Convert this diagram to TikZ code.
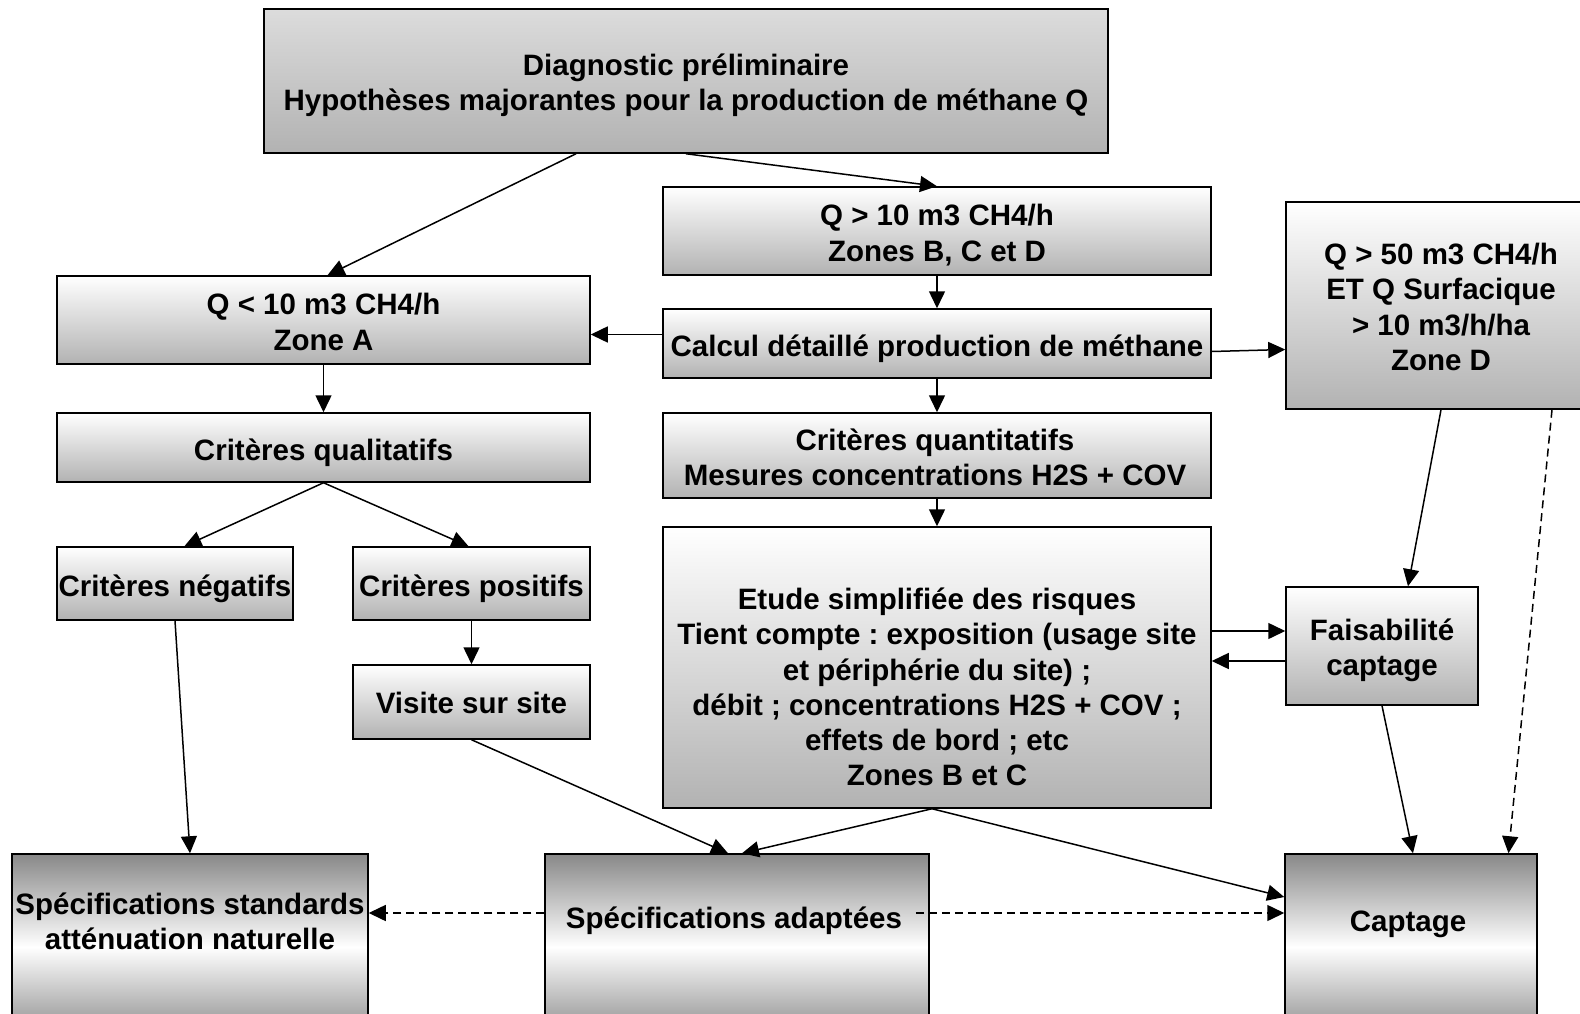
\documentclass[tikz,border=0pt]{standalone}
\usepackage{fontspec}
\setmainfont{Liberation Sans}
\usetikzlibrary{arrows.meta}
\frenchspacing
\definecolor{gbot}{HTML}{B2B2B2}
\definecolor{gdark}{HTML}{888888}
\definecolor{gtop}{HTML}{DCDCDC}
\tikzset{
  box/.style={draw=black, line width=1.5pt, inner sep=0pt,
    top color=white, bottom color=gbot},
  endbox/.style={draw=black, line width=1.5pt, inner sep=0pt,
    top color=gdark, bottom color=gdark, middle color=white},
  txt/.style={inner sep=0pt, align=center, font=\bfseries\fontsize{29.5}{35.2}\selectfont\frenchspacing},
  arr/.style={line width=1.5pt, -{Triangle[length=17pt,width=16pt]}},
  darr/.style={arr, dash pattern=on 8pt off 5pt},
}
\begin{document}
\begin{tikzpicture}[x=1pt,y=-1pt]
\clip (0,0) rectangle (1580,1014);
\fill[white] (0,0) rectangle (1580,1014);

\node[box, top color=gtop, minimum width=844pt, minimum height=144pt] (top) at (686,81) {};
\node[txt] (toptxt) at ([yshift=-4pt]top.center)
  {Diagnostic préliminaire\\Hypothèses majorantes pour la production de méthane Q};
\node[box, minimum width=548pt, minimum height=88pt] (q10) at (937,231) {};
\node[txt] (q10txt) at ([yshift=-4pt]q10.center) {Q > 10 m3 CH4/h\\Zones B, C et D};
\node[box, minimum width=533pt, minimum height=88pt] (qA) at (323.5,320) {};
\node[txt] (qAtxt) at ([yshift=-2pt]qA.center) {Q < 10 m3 CH4/h\\Zone A};
\node[box, minimum width=548pt, minimum height=69pt] (calc) at (937,343.5) {};
\node[txt] (calctxt) at ([yshift=-5pt]calc.center) {Calcul détaillé production de méthane};
\node[box, minimum width=310pt, minimum height=207pt] (q50) at (1441,305.5) {};
\node[txt] (q50txt) at ([yshift=-1.5pt]q50.center)
  {Q > 50 m3 CH4/h\\ET Q Surfacique\\ > 10 m3/h/ha\\Zone D};
\node[box, minimum width=533pt, minimum height=69pt] (qual) at (323.5,447.5) {};
\node[txt] (qualtxt) at ([yshift=-5pt]qual.center) {Critères qualitatifs};
\node[box, minimum width=548pt, minimum height=85pt] (quant) at (937,455.5) {};
\node[txt] (quanttxt) at ([xshift=-2pt,yshift=-2pt]quant.center)
  {Critères quantitatifs\\Mesures concentrations H2S + COV};
\node[box, minimum width=236pt, minimum height=73pt] (neg) at (175,583.5) {};
\node[txt] (negtxt) at ([yshift=-5pt]neg.center) {Critères négatifs};
\node[box, minimum width=237pt, minimum height=73pt] (pos) at (471.5,583.5) {};
\node[txt] (postxt) at ([yshift=-5pt]pos.center) {Critères positifs};
\node[box, minimum width=237pt, minimum height=74pt] (visite) at (471.5,702) {};
\node[txt] (visitetxt) at ([yshift=-1pt]visite.center) {Visite sur site};
\node[box, minimum width=548pt, minimum height=281pt] (etude) at (937,667.5) {};
\node[txt] (etudetxt) at ([yshift=-19.5pt]etude.center)
  {Etude simplifiée des risques\\Tient compte : exposition (usage site\\et périphérie du site) ;\\débit ; concentrations H2S + COV ;\\effets de bord ; etc\\Zones B et C};
\node[box, minimum width=192pt, minimum height=118pt] (faisab) at (1382,646) {};
\node[txt] (faisabtxt) at ([yshift=-4pt]faisab.center) {Faisabilité\\captage};

\node[endbox, minimum width=356pt, minimum height=186pt] (specstd) at (190,947) {};
\node[txt] (specstdtxt) at ([yshift=26pt]specstd.center)
  {Spécifications standards\\atténuation naturelle};
\node[endbox, minimum width=384pt, minimum height=186pt] (specad) at (737,947) {};
\node[txt] (specadtxt) at ([xshift=-3pt,yshift=26pt]specad.center)
  {Spécifications adaptées};
\node[endbox, minimum width=252pt, minimum height=186pt] (capt) at (1411,947) {};
\node[txt] (capttxt) at ([xshift=-3pt,yshift=23pt]capt.center) {Captage};

% connectors
\draw[arr] ([xshift=-110pt]top.south) -- ([xshift=4pt]qA.north);
\draw[arr] (top.south) -- (q10.north);
\draw[arr] (q10.south) -- (calc.north);
\draw[arr] ([yshift=9pt]calc.west) -- ([yshift=-14.5pt]qA.east);
\draw[arr] ([yshift=-8pt]calc.east) -- ([yshift=-44pt]q50.west);
\draw[arr] (calc.south) -- (quant.north);
\draw[arr] (qA.south) -- (qual.north);
\draw[arr] (qual.south) -- ([xshift=9.4pt]neg.north);
\draw[arr] (qual.south) -- ([xshift=-3pt]pos.north);
\draw[arr] (quant.south) -- (etude.north);
\draw[arr] (pos.south) -- (visite.north);
\draw[arr] ([yshift=36.5pt]etude.east) -- ([yshift=15pt]faisab.west);
\draw[arr] ([yshift=-15pt]faisab.west) -- ([yshift=6.5pt]etude.east);
\draw[arr] (q50.south) -- ([xshift=26pt]faisab.north);
\draw[darr] ([xshift=111pt]q50.south) -- ([xshift=97.5pt]capt.north);
\draw[arr] (faisab.south) -- ([xshift=2pt]capt.north);
\draw[arr] (neg.south) -- (specstd.north);
\draw[arr] (visite.south) -- ([xshift=-9pt]specad.north);
\draw[arr] ([xshift=-5pt]etude.south) -- ([xshift=5pt]specad.north);
\draw[arr] ([xshift=-5pt]etude.south) -- ([yshift=50pt]capt.west);
\draw[darr] ([yshift=34pt]specad.west) -- ([yshift=34pt]specstd.east);
\draw[darr] ([xshift=-14pt,yshift=34pt]specad.east) -- ([yshift=34pt]capt.west);
\end{tikzpicture}
\end{document}
